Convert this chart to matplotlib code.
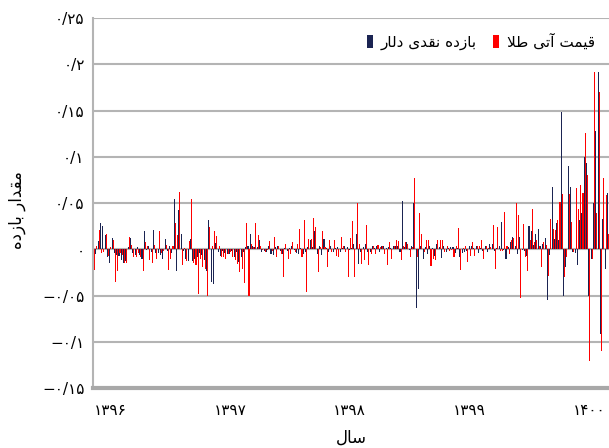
import numpy as np
import matplotlib
matplotlib.use("Agg")
from matplotlib import pyplot as plt

plt.rcParams['font.family'] = ['DejaVu Sans']

# weekly returns, navy series (بازده نقدی دلار)
dollar = [
    # 0-45
    0.013, -0.005, 0.009, 0.028, 0.025, 0.015, -0.008, -0.015, 0.012, -0.004,
    -0.006, -0.007, -0.012, -0.015, -0.013, 0.002, 0.012, -0.004, -0.006, 0.002,
    -0.006, -0.010, 0.020, -0.001, 0.004, -0.003, 0.021, -0.004, -0.004, -0.006,
    -0.010, 0.011, -0.002, 0.003, -0.004, 0.054, -0.024, 0.042, 0.016, -0.002,
    -0.011, -0.013, 0.011, -0.013, -0.010, -0.008,
    # 46-74
    -0.004, -0.006, -0.012, -0.023, 0.032, -0.035, -0.038, 0.007, -0.003, -0.007,
    -0.002, -0.004, -0.005, -0.005, -0.002, -0.008, -0.003, -0.014, -0.008, -0.003,
    0.002, 0.004, 0.017, 0.003, 0.002, 0.002, 0.010, -0.003, -0.002,
    # 75-112
    -0.003, 0.004, -0.005, -0.006, 0.002, 0.003, -0.002, -0.005, 0.001, -0.002,
    0.001, 0.003, -0.001, -0.004, -0.005, 0.001, -0.005, -0.003, 0.002, 0.010,
    0.002, 0.020, -0.005, 0.003, -0.006, 0.011, 0.001, -0.003, 0.003, -0.003,
    0.001, 0.002, -0.003, 0.001, 0.003, 0.002, -0.001, 0.001,
    # 113-151
    0.006, 0.017, -0.016, -0.003, 0.002, 0.006, -0.003, -0.003, 0.003, 0.001,
    0.003, -0.003, 0.003, 0.003, 0.001, 0.002, 0.001, 0.003, 0.004, 0.003,
    -0.003, 0.052, 0.002, 0.008, -0.001, 0.003, 0.050, -0.064, -0.043, 0.003,
    -0.011, 0.002, -0.005, 0.003, 0.001, -0.007, 0.006, 0.002, -0.009,
    # 152-189
    0.003, -0.003, 0.001, 0.002, 0.002, -0.004, 0.001, -0.008, -0.004, -0.003,
    -0.002, 0.003, 0.004, 0.001, 0.003, -0.004, 0.001, -0.002, 0.003, -0.003,
    0.006, 0.006, -0.002, 0.001, 0.003, 0.030, -0.001, -0.010, 0.002, 0.008,
    0.013, 0.004, -0.005, 0.013, -0.001, -0.002, -0.007, 0.025,
    # 190-223
    0.020, 0.005, 0.017, 0.022, 0.004, 0.006, 0.012, -0.055, -0.006, 0.067,
    0.011, 0.028, 0.010, 0.148, -0.050, -0.019, 0.090, 0.067, -0.003, -0.004,
    -0.017, 0.032, 0.039, 0.100, 0.093, -0.050, -0.010, 0.050, 0.128, 0.192,
    -0.092, 0.033, -0.021, 0.061,
]

# weekly returns, red series (قیمت آتی طلا)
gold = [
    # 0-45
    -0.022, 0.004, 0.021, -0.004, -0.003, 0.016, -0.007, 0.002, 0.010, -0.035,
    -0.023, -0.004, -0.006, -0.015, -0.015, 0.013, 0.005, -0.008, -0.008, -0.004,
    -0.008, -0.023, 0.008, 0.003, -0.012, -0.015, 0.005, -0.011, 0.020, -0.004,
    -0.002, 0.005, -0.022, -0.010, 0.004, 0.028, 0.015, 0.062, -0.017, 0.001,
    -0.013, 0.009, 0.054, -0.015, -0.017, -0.048,
    # 46-74
    -0.010, -0.019, -0.021, -0.050, 0.024, 0.003, 0.020, 0.014, 0.003, -0.008,
    -0.008, -0.010, -0.005, -0.003, -0.008, -0.012, -0.016, -0.025, -0.021, -0.037,
    0.028, -0.050, 0.006, 0.002, 0.028, 0.015, 0.003, -0.001, -0.003,
    # 75-112
    -0.001, 0.009, -0.002, 0.013, -0.008, 0.003, -0.005, -0.030, 0.006, -0.010,
    -0.005, 0.008, -0.003, 0.006, 0.022, -0.008, 0.032, -0.046, 0.011, 0.011,
    0.034, 0.024, -0.025, 0.002, 0.020, 0.002, -0.019, 0.010, -0.003, 0.010,
    -0.007, -0.008, 0.013, 0.003, -0.003, -0.030, 0.012, 0.031,
    # 113-151
    -0.030, 0.050, 0.006, -0.016, -0.012, 0.026, -0.017, -0.005, 0.004, -0.005,
    0.005, 0.002, 0.003, -0.005, -0.017, 0.008, -0.010, 0.003, 0.010, 0.009,
    -0.012, 0.004, 0.008, 0.006, -0.008, 0.002, 0.077, -0.008, 0.039, 0.016,
    -0.003, 0.010, 0.010, -0.018, -0.010, -0.012, 0.010, 0.010, 0.010,
    # 152-189
    -0.003, 0.003, -0.002, -0.001, -0.008, 0.003, 0.023, -0.022, 0.001, 0.004,
    -0.014, -0.007, 0.008, -0.007, 0.003, 0.004, 0.010, -0.010, 0.003, 0.001,
    0.002, 0.026, -0.021, 0.024, -0.002, -0.002, 0.040, 0.003, -0.005, 0.010,
    0.012, 0.050, 0.037, -0.053, 0.027, -0.008, -0.024, 0.010,
    # 190-223
    0.044, 0.008, 0.010, 0.004, -0.019, 0.008, 0.005, -0.029, 0.033, 0.022,
    0.021, 0.032, 0.051, 0.060, -0.030, -0.008, 0.060, 0.030, -0.003, 0.066,
    0.044, 0.070, 0.061, 0.126, 0.080, -0.121, -0.010, 0.192, 0.039, 0.170,
    -0.110, 0.077, 0.059, 0.017,
]

year_labels = ["۱۳۹۶", "۱۳۹۷", "۱۳۹۸", "۱۳۹۹", "۱۴۰۰"]
y_ticks = [-0.15, -0.1, -0.05, 0, 0.05, 0.1, 0.15, 0.2, 0.25]
y_labels = ["\u2212۰/۱۵", "\u2212۰/۱", "\u2212۰/۰۵", "۰", "۰/۰۵", "۰/۱", "۰/۱۵", "۰/۲", "۰/۲۵"]

# persian text in visual order, presentation forms (matplotlib does no shaping)
lbl_dollar = "\uFEAD\uFE8E\uFEDF\uFEA9 \uFEEF\uFEAA\uFED8\uFEE7 \uFEE9\uFEA9\uFEAF\uFE8E\uFE91"   # بازده نقدی دلار
lbl_gold = "\uFEFC\uFEC3 \uFEF0\uFE97\uFE81 \uFE96\uFEE4\uFEF4\uFED7"                             # قیمت آتی طلا
x_title = "\uFEDD\uFE8E\uFEB3"                                                                     # سال
y_title = "\uFEE9\uFEA9\uFEAF\uFE8E\uFE91 \uFEAD\uFE8D\uFEAA\uFED8\uFEE3"                         # مقدار بازده

x = np.arange(len(dollar))
year_pos = 7 + 52 * np.arange(len(year_labels))

fig = plt.figure(figsize=(6.09, 4.48), dpi=100)
ax = fig.add_axes([93 / 609, 60 / 448, 516 / 609, 370 / 448])

b1 = ax.bar(x - 0.22, dollar, width=0.46, color='#1b2452', linewidth=0)
b2 = ax.bar(x + 0.22, gold, width=0.46, color='#ff0000', linewidth=0)

ax.set_xlim(-0.5, len(dollar) - 0.5)
ax.set_ylim(-0.15, 0.25)
ax.set_yticks(y_ticks)
ax.set_yticklabels(y_labels, fontsize=11)
ax.set_xticks(year_pos)
ax.set_xticklabels(year_labels, fontsize=11)
ax.tick_params(length=0)
ax.tick_params(axis='y', pad=6)
ax.tick_params(axis='x', pad=11)

ax.set_axisbelow(True)
ax.grid(axis='y', color='#b4b4b4', linewidth=1.5)
for s in ['top', 'right']:
    ax.spines[s].set_visible(False)
ax.spines['left'].set_color('#b4b4b4')
ax.spines['left'].set_linewidth(1.5)
ax.spines['bottom'].set_color('#a8a8a8')
ax.spines['bottom'].set_linewidth(3)

ax.set_xlabel(x_title, fontsize=12)
ax.xaxis.set_label_coords(0.5, -0.11)
ax.set_ylabel(y_title, fontsize=12)
ax.yaxis.set_label_coords(-0.13, 0.48)

ax.legend([b1, b2], [lbl_dollar, lbl_gold], ncol=2, loc='upper right',
          bbox_to_anchor=(0.985, 0.975), frameon=False, fontsize=11,
          handlelength=0.4, handleheight=1.0, handletextpad=0.5,
          columnspacing=1.1, borderaxespad=0)

fig.savefig("out.png", dpi=100)
